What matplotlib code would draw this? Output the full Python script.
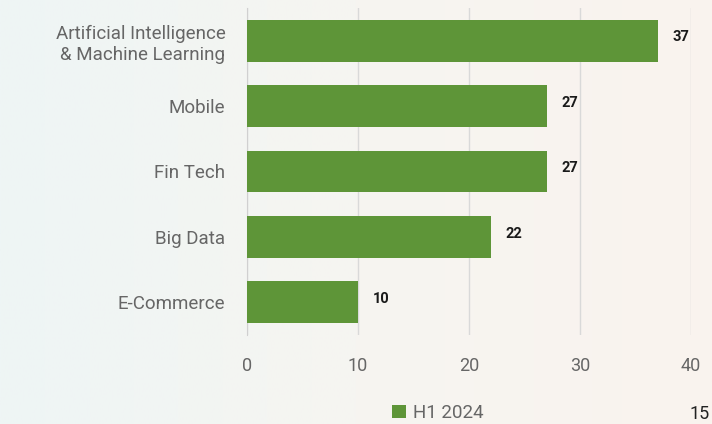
import numpy as np
import matplotlib.pyplot as plt
from matplotlib.colors import LinearSegmentedColormap

categories = ['Artificial Intelligence\n& Machine Learning', 'Mobile', 'Fin Tech', 'Big Data', 'E-Commerce']
values = [37, 27, 27, 22, 10]
series_name = 'H1 2024'
xticks = [0, 10, 20, 30, 40]
page_number = '15'

bar_color = '#5e9538'
text_gray = '#666666'

plt.rcParams['font.family'] = ['Roboto', 'DejaVu Sans']

fig = plt.figure(figsize=(7.12, 4.24), dpi=100)

# soft background gradient (bluish white on the left, warm white on the right)
bg_ax = fig.add_axes([0, 0, 1, 1], zorder=-10)
grad = np.linspace(0, 1, 256).reshape(1, -1)
cmap = LinearSegmentedColormap.from_list('bg', ['#eef5f5', '#f6f5f1', '#faf3ee'])
bg_ax.imshow(grad, aspect='auto', cmap=cmap, extent=[0, 1, 0, 1])
bg_ax.axis('off')

ax = fig.add_axes([247 / 712, 1 - 335 / 424, 444 / 712, 327 / 424])
ax.set_facecolor('none')

ypos = list(range(len(categories)))[::-1]
ax.barh(ypos, values, height=0.64, color=bar_color, label=series_name, zorder=3)
for y, v in zip(ypos, values):
    ax.text(v + 1.3, y + 0.05, str(v), va='center', ha='left', fontsize=10.5,
            fontweight='bold', color='#1a1a1a')

ax.set_xlim(0, 40)
ax.set_ylim(-0.5, len(categories) - 0.5)
ax.set_yticks(ypos)
ax.set_yticklabels(categories, fontsize=13.5, color=text_gray)
ax.set_xticks(xticks)
ax.set_xticklabels([str(t) for t in xticks], fontsize=13, color=text_gray)
ax.tick_params(axis='y', length=0, pad=15.5)
ax.tick_params(axis='x', length=0, pad=16)

ax.grid(axis='x', color='#d9d9d9', linewidth=1, zorder=0)
for s in ['top', 'right', 'bottom']:
    ax.spines[s].set_visible(False)
ax.spines['left'].set_color('#d0d0d0')

leg = fig.legend(loc='center', bbox_to_anchor=(438 / 712, 1 - 413 / 424), frameon=False,
                 fontsize=13.5, handlelength=0.75, handleheight=0.75, handletextpad=0.35,
                 borderpad=0)
for t in leg.get_texts():
    t.set_color(text_gray)

fig.text(710 / 712, 1 / 424, page_number, fontsize=13, color='#222222', ha='right', va='bottom')

fig.savefig('out.png', dpi=100)
